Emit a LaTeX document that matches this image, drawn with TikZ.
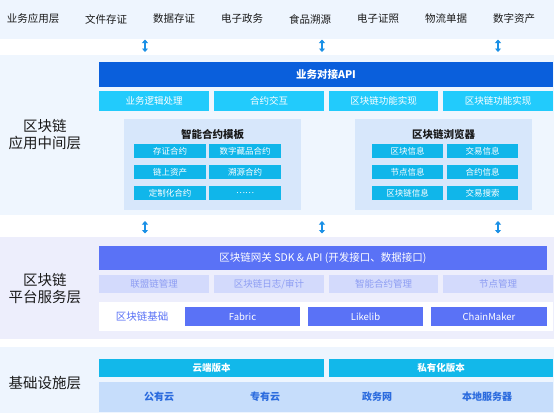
\documentclass[tikz,border=0pt]{standalone}
\usepackage{fontspec}
\setmainfont{Noto Sans CJK SC}
\usetikzlibrary{arrows.meta}
\definecolor{topbg}{HTML}{EEF5FE}
\definecolor{midbg}{HTML}{EFF6FE}
\definecolor{platbg}{HTML}{EDEEFC}
\definecolor{apic}{HTML}{0A5FDC}
\definecolor{cyanrow}{HTML}{22CBFC}
\definecolor{panelc}{HTML}{D7E7FB}
\definecolor{subc}{HTML}{10B6EA}
\definecolor{arrowc}{HTML}{1A90E6}
\definecolor{sdkc}{HTML}{5A72F6}
\definecolor{mgmtc}{HTML}{D3DAFC}
\definecolor{mgmttxt}{HTML}{8D9DF3}
\definecolor{cloudc}{HTML}{12B8EA}
\definecolor{bottomc}{HTML}{C6DDFB}
\definecolor{bottomtxt}{HTML}{2B6BDE}
\definecolor{labeltxt}{HTML}{1A1A1A}
\tikzset{
  box/.style={inner sep=0pt, outer sep=0pt, draw=none, align=center},
  toptxt/.style={inner sep=0pt, text=labeltxt, font=\fontsize{10.5}{12}\selectfont},
  layerlbl/.style={inner sep=0pt, text=labeltxt, align=center, font=\fontsize{14.5}{18}\selectfont},
  rowbox/.style={box, fill=cyanrow, text=white, minimum width=110pt, minimum height=20pt, font=\fontsize{9.5}{11}\selectfont},
  subbox/.style={box, fill=subc, text=white, minimum width=72pt, minimum height=14pt, font=\fontsize{8.5}{10}\selectfont},
  paneltitle/.style={inner sep=0pt, text=labeltxt, font=\bfseries\fontsize{10.5}{12}\selectfont},
  mgmtbox/.style={box, fill=mgmtc, text=mgmttxt, minimum width=110pt, minimum height=18pt, font=\fontsize{9.5}{11}\selectfont},
  chainbox/.style={box, fill=sdkc, text=white, minimum width=115pt, minimum height=19pt, font=\fontsize{9.5}{11}\selectfont},
  cloudbar/.style={box, fill=cloudc, text=white, minimum height=18pt, font=\bfseries\fontsize{9.5}{11}\selectfont},
  bottomtext/.style={inner sep=0pt, text=bottomtxt, font=\bfseries\fontsize{10}{12}\selectfont},
  updown/.style={{Triangle[length=3.5pt,width=6pt]}-{Triangle[length=3.5pt,width=6pt]}, line width=2.2pt, draw=arrowc},
}
\begin{document}
\begin{tikzpicture}[x=1pt,y=-1pt]
\useasboundingbox (0,0) rectangle (554,413);
% backgrounds
\fill[white] (0,0) rectangle (554,413);
\fill[topbg] (0,0) rectangle (554,39);
\fill[midbg] (0,55) rectangle (554,215);
\fill[platbg] (0,237) rectangle (554,339);
\fill[topbg] (0,347) rectangle (554,413);

% top row
\node[toptxt] (t0) at (33,19) {业务应用层};
\node[toptxt] (t1) at (106,19) {文件存证};
\node[toptxt] (t2) at (174,19) {数据存证};
\node[toptxt] (t3) at (242,19) {电子政务};
\node[toptxt] (t4) at (310,19) {食品溯源};
\node[toptxt] (t5) at (378,19) {电子证照};
\node[toptxt] (t6) at (446,19) {物流单据};
\node[toptxt] (t7) at (514,19) {数字资产};

% arrows between top and middle
\coordinate (a1t) at (145,39.5); \coordinate (a1b) at (145,52);
\coordinate (a2t) at (322,39.5); \coordinate (a2b) at (322,52);
\coordinate (a3t) at (498,39.5); \coordinate (a3b) at (498,52);
\draw[updown] (a1t) -- (a1b);
\draw[updown] (a2t) -- (a2b);
\draw[updown] (a3t) -- (a3b);

% middle layer
\node[layerlbl] (midlbl) at (45,135) {区块链\\[-1pt]应用中间层};
\node[box, fill=apic, text=white, minimum width=454pt, minimum height=25pt, font=\bfseries\fontsize{10.5}{12}\selectfont] (api) at (326,74.5) {业务对接API};
\node[rowbox] (r1) at (154,101) {业务逻辑处理};
\node[rowbox] (r2) at (269,101) {合约交互};
\node[rowbox, minimum width=109pt] (r3) at (383.5,101) {区块链功能实现};
\node[rowbox] (r4) at (498,101) {区块链功能实现};

% smart contract panel
\node[box, fill=panelc, minimum width=177pt, minimum height=91pt] (pan1) at (212.5,164.5) {};
\node[paneltitle] (pt1) at (212.5,134.5) {智能合约模板};
\node[subbox] (s11) at (170,151) {存证合约};
\node[subbox] (s12) at (245,151) {数字藏品合约};
\node[subbox] (s21) at (170,172) {链上资产};
\node[subbox] (s22) at (245,172) {溯源合约};
\node[subbox] (s31) at (170,193) {定制化合约};
\node[subbox] (s32) at (245,193) {……};

% browser panel
\node[box, fill=panelc, minimum width=177pt, minimum height=91pt] (pan2) at (443.5,164.5) {};
\node[paneltitle] (pt2) at (443.5,134.5) {区块链浏览器};
\node[subbox, minimum width=71pt] (b11) at (407.5,151) {区块信息};
\node[subbox, minimum width=71pt] (b12) at (482.5,151) {交易信息};
\node[subbox, minimum width=71pt] (b21) at (407.5,172) {节点信息};
\node[subbox, minimum width=71pt] (b22) at (482.5,172) {合约信息};
\node[subbox, minimum width=71pt] (b31) at (407.5,193) {区块链信息};
\node[subbox, minimum width=71pt] (b32) at (482.5,193) {交易搜索};

% arrows between middle and platform
\coordinate (c1t) at (145,221); \coordinate (c1b) at (145,233.5);
\coordinate (c2t) at (322,221); \coordinate (c2b) at (322,233.5);
\coordinate (c3t) at (498,221); \coordinate (c3b) at (498,233.5);
\draw[updown] (c1t) -- (c1b);
\draw[updown] (c2t) -- (c2b);
\draw[updown] (c3t) -- (c3b);

% platform layer
\node[layerlbl] (platlbl) at (45,289) {区块链\\[-1pt]平台服务层};
\node[box, fill=sdkc, text=white, minimum width=448pt, minimum height=24pt, font=\fontsize{10.5}{12}\selectfont] (sdk) at (323,258) {区块链网关 SDK \& API (开发接口、数据接口)};
\node[mgmtbox] (m1) at (154,284) {联盟链管理};
\node[mgmtbox] (m2) at (269,284) {区块链日志/审计};
\node[mgmtbox, minimum width=109pt] (m3) at (383.5,284) {智能合约管理};
\node[mgmtbox] (m4) at (498,284) {节点管理};
\node[box, fill=white, minimum width=454pt, minimum height=29pt] (found) at (326,316.5) {};
\node[inner sep=0pt, text=sdkc, font=\fontsize{10.5}{12}\selectfont] (foundlbl) at (142,316.5) {区块链基础};
\node[chainbox] (fab) at (242.5,316.5) {Fabric};
\node[chainbox] (lik) at (365.5,316.5) {Likelib};
\node[chainbox, minimum width=116pt] (cm) at (489,316.5) {ChainMaker};

% infrastructure layer
\node[layerlbl] (infralbl) at (45,383) {基础设施层};
\node[cloudbar, minimum width=225pt] (cloud) at (211.5,368) {云端版本};
\node[cloudbar, minimum width=224pt] (priv) at (441,368) {私有化版本};
\node[box, fill=bottomc, minimum width=454pt, minimum height=30pt] (bottom) at (326,397) {};
\node[bottomtext] (g1) at (159,397) {公有云};
\node[bottomtext] (g2) at (265,397) {专有云};
\node[bottomtext] (g3) at (377,397) {政务网};
\node[bottomtext] (g4) at (487,397) {本地服务器};
\end{tikzpicture}
\end{document}
